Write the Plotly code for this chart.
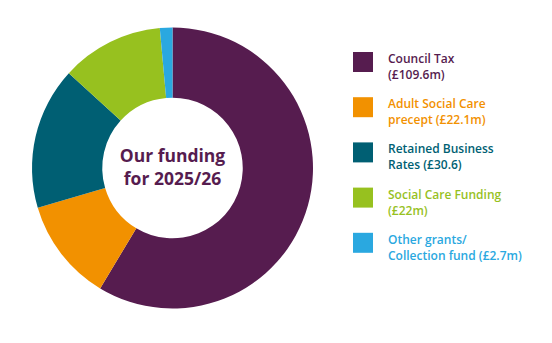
import plotly.graph_objects as go

labels = ["Council Tax", "Adult Social Care precept", "Retained Business Rates",
          "Social Care Funding", "Other grants/Collection fund"]
values = [109.6, 22.1, 30.6, 22.0, 2.7]
legend_text = ["Council Tax<br>(£109.6m)", "Adult Social Care<br>precept (£22.1m)",
               "Retained Business<br>Rates (£30.6)", "Social Care Funding<br>(£22m)",
               "Other grants/<br>Collection fund (£2.7m)"]
colors = ["#561C4F", "#F29100", "#005F73", "#97C11F", "#2AA8E0"]
center_title = "Our funding<br>for 2025/26"

W, H = 552, 343
fig = go.Figure()
fig.add_trace(go.Pie(
    labels=labels, values=values, hole=0.5, sort=False, direction="clockwise",
    rotation=0, marker=dict(colors=colors, line=dict(width=0)),
    textinfo="none", hoverinfo="label+value", showlegend=False,
    title=dict(text=center_title, position="middle center",
               font=dict(family="Open Sans", size=17.5, color="#561C4F", weight=700)),
    domain=dict(x=[32 / W, 313 / W], y=[1 - 309 / H, 1 - 27 / H]),
))

sq_x0, sq_size = 353, 20
sq_y0, step = 52, 45.2
for i, (t, c) in enumerate(zip(legend_text, colors)):
    y0 = sq_y0 + i * step
    fig.add_shape(type="rect", xref="paper", yref="paper",
                  x0=sq_x0 / W, x1=(sq_x0 + sq_size) / W,
                  y0=1 - (y0 + sq_size) / H, y1=1 - y0 / H,
                  fillcolor=c, line=dict(width=0))
    fig.add_annotation(x=386 / W, y=1 - (y0 - 4) / H, xref="paper", yref="paper",
                       xanchor="left", yanchor="top", text=t, showarrow=False,
                       align="left",
                       font=dict(family="Open Sans", size=12, color=c, weight=600))

fig.update_layout(width=W, height=H, margin=dict(l=0, r=0, t=0, b=0),
                  paper_bgcolor="white", plot_bgcolor="white")
fig.write_html("out.html")
